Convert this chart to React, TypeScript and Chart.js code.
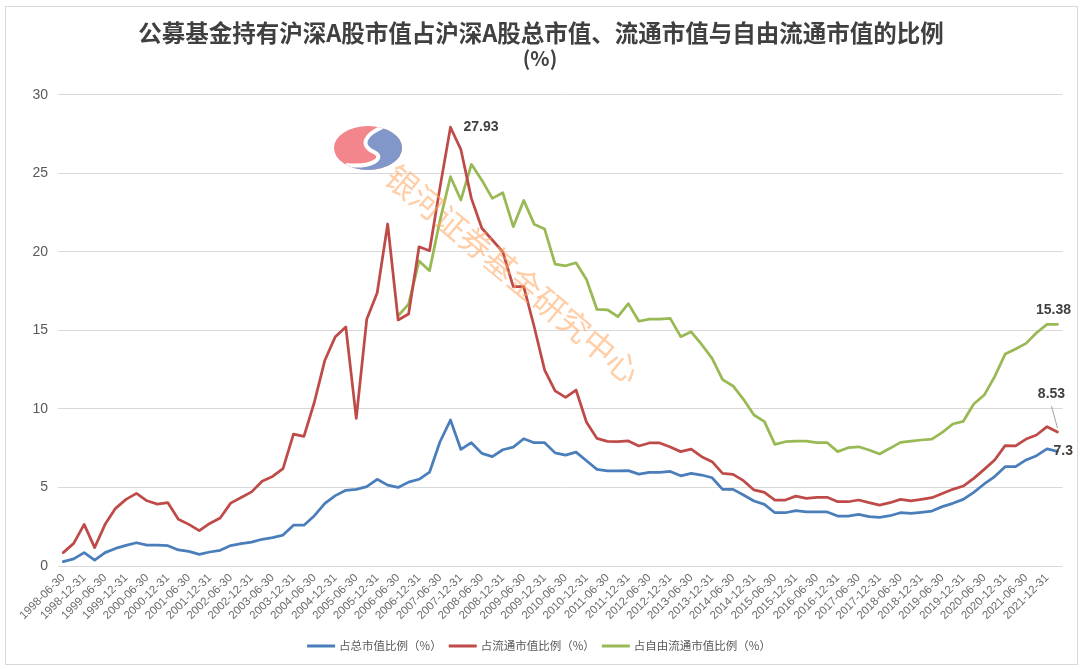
import React, { useEffect, useRef } from "react";
import { Chart, registerables } from "chart.js";

Chart.register(...registerables);

// Quarterly reporting dates
const categories: string[] = [
  "1998-06-30", "1998-09-30", "1998-12-31",
  "1999-03-31", "1999-06-30", "1999-09-30", "1999-12-31",
  "2000-03-31", "2000-06-30", "2000-09-30", "2000-12-31",
  "2001-03-31", "2001-06-30", "2001-09-30", "2001-12-31",
  "2002-03-31", "2002-06-30", "2002-09-30", "2002-12-31",
  "2003-03-31", "2003-06-30", "2003-09-30", "2003-12-31",
  "2004-03-31", "2004-06-30", "2004-09-30", "2004-12-31",
  "2005-03-31", "2005-06-30", "2005-09-30", "2005-12-31",
  "2006-03-31", "2006-06-30", "2006-09-30", "2006-12-31",
  "2007-03-31", "2007-06-30", "2007-09-30", "2007-12-31",
  "2008-03-31", "2008-06-30", "2008-09-30", "2008-12-31",
  "2009-03-31", "2009-06-30", "2009-09-30", "2009-12-31",
  "2010-03-31", "2010-06-30", "2010-09-30", "2010-12-31",
  "2011-03-31", "2011-06-30", "2011-09-30", "2011-12-31",
  "2012-03-31", "2012-06-30", "2012-09-30", "2012-12-31",
  "2013-03-31", "2013-06-30", "2013-09-30", "2013-12-31",
  "2014-03-31", "2014-06-30", "2014-09-30", "2014-12-31",
  "2015-03-31", "2015-06-30", "2015-09-30", "2015-12-31",
  "2016-03-31", "2016-06-30", "2016-09-30", "2016-12-31",
  "2017-03-31", "2017-06-30", "2017-09-30", "2017-12-31",
  "2018-03-31", "2018-06-30", "2018-09-30", "2018-12-31",
  "2019-03-31", "2019-06-30", "2019-09-30", "2019-12-31",
  "2020-03-31", "2020-06-30", "2020-09-30", "2020-12-31",
  "2021-03-31", "2021-06-30", "2021-09-30", "2021-12-31",
  "2022-03-31",
];

// 占总市值比例（%）
const totalRatio: number[] = [
  0.28, 0.45, 0.85, 0.38, 0.85, 1.12, 1.31, 1.48, 1.33, 1.33,
  1.29, 1.02, 0.93, 0.74, 0.89, 1.0, 1.3, 1.42, 1.52, 1.7,
  1.81, 1.97, 2.6, 2.6, 3.2, 3.98, 4.48, 4.82, 4.88, 5.05,
  5.52, 5.15, 5.0, 5.34, 5.52, 5.97, 7.91, 9.29, 7.42, 7.85,
  7.17, 6.96, 7.4, 7.57, 8.1, 7.85, 7.85, 7.2, 7.06, 7.25,
  6.7, 6.15, 6.05, 6.05, 6.07, 5.85, 5.96, 5.96, 6.02, 5.74,
  5.9, 5.79, 5.62, 4.88, 4.88, 4.52, 4.14, 3.92, 3.39, 3.39,
  3.52, 3.44, 3.44, 3.44, 3.18, 3.18, 3.29, 3.14, 3.1, 3.2,
  3.39, 3.35, 3.42, 3.5, 3.78, 3.99, 4.24, 4.69, 5.22, 5.69,
  6.32, 6.32, 6.75, 7.02, 7.45, 7.3,
];

// 占流通市值比例（%）
const floatRatio: number[] = [
  0.85, 1.44, 2.65, 1.17, 2.65, 3.67, 4.24, 4.62, 4.15, 3.94,
  4.03, 2.97, 2.65, 2.25, 2.71, 3.06, 4.0, 4.36, 4.72, 5.4,
  5.7, 6.2, 8.4, 8.25, 10.44, 13.1, 14.6, 15.22, 9.4, 15.7,
  17.39, 21.77, 15.66, 16.04, 20.32, 20.07, 24.1, 27.93, 26.5, 23.4,
  21.5, 20.75, 20.0, 17.78, 17.78, 15.23, 12.47, 11.15, 10.73, 11.2,
  9.15, 8.12, 7.93, 7.91, 7.96, 7.64, 7.83, 7.83, 7.57, 7.28,
  7.44, 6.96, 6.64, 5.9, 5.83, 5.43, 4.84, 4.69, 4.2, 4.2,
  4.45, 4.31, 4.37, 4.37, 4.09, 4.09, 4.2, 4.03, 3.88, 4.03,
  4.24, 4.14, 4.24, 4.35, 4.62, 4.88, 5.09, 5.58, 6.15, 6.75,
  7.66, 7.64, 8.08, 8.34, 8.87, 8.53,
];

// 占自由流通市值比例（%） (series begins 2006-06-30)
const freeFloatRatio: (number | null)[] = [
  null, null, null, null, null, null, null, null, null, null,
  null, null, null, null, null, null, null, null, null, null,
  null, null, null, null, null, null, null, null, null, null,
  null, null, 15.93, 16.67, 19.42, 18.8, 22.0, 24.78, 23.3, 25.57,
  24.56, 23.4, 23.76, 21.6, 23.27, 21.76, 21.45, 19.22, 19.11, 19.3,
  18.24, 16.33, 16.31, 15.87, 16.7, 15.58, 15.72, 15.72, 15.76, 14.6,
  14.91, 14.1, 13.22, 11.86, 11.46, 10.61, 9.61, 9.19, 7.74, 7.91,
  7.95, 7.95, 7.85, 7.85, 7.28, 7.53, 7.59, 7.38, 7.13, 7.49,
  7.87, 7.95, 8.02, 8.08, 8.51, 9.04, 9.21, 10.31, 10.88, 12.05,
  13.49, 13.81, 14.17, 14.85, 15.38, 15.38,
];

const seriesNames = ["占总市值比例（%）", "占流通市值比例（%）", "占自由流通市值比例（%）"];
const seriesColors = ["#4a7ebb", "#be4b48", "#98b954"];
const yTicks = [0, 5, 10, 15, 20, 25, 30];

const titleLines = ["公募基金持有沪深A股市值占沪深A股总市值、流通市值与自由流通市值的比例", "(%)"];
const watermarkText = "银河证券基金研究中心";

const CJK = '"Noto Sans CJK SC", "Noto Sans", sans-serif';

const titlePlugin = {
  id: "titleText",
  afterDraw(chart: any) {
    const ctx = chart.ctx;
    ctx.save();
    ctx.fillStyle = "#404040";
    ctx.textAlign = "center";
    ctx.textBaseline = "middle";
    ctx.font = `bold 23.5px ${CJK}`;
    ctx.fillText(titleLines[0], 541, 33);
    ctx.font = `bold 20px ${CJK}`;
    ctx.fillText(titleLines[1], 540, 58);
    ctx.restore();
  },
};

const legendPlugin = {
  id: "lineLegend",
  afterDraw(chart: any) {
    const ctx = chart.ctx;
    ctx.save();
    ctx.font = `11.5px ${CJK}`;
    const lineW = 28;
    const gap = 4;
    const itemGap = 7;
    const items = chart.data.datasets.map((ds: any) => ({ text: ds.label, color: ds.borderColor }));
    const widths = items.map((it: any) => lineW + gap + ctx.measureText(it.text).width);
    const total = widths.reduce((a: number, b: number) => a + b, 0) + itemGap * (items.length - 1);
    let x = 539 - total / 2;
    const y = 646;
    items.forEach((it: any, i: number) => {
      ctx.fillStyle = it.color;
      ctx.fillRect(x, y - 1.5, lineW, 3);
      ctx.fillStyle = "#595959";
      ctx.textAlign = "left";
      ctx.textBaseline = "middle";
      ctx.fillText(it.text, x + lineW + gap, y);
      x += widths[i] + itemGap;
    });
    ctx.restore();
  },
};

const valueLabels = [
  { ds: 1, idx: 37, dx: 13, dy: 0, align: "left", leader: false },
  { ds: 2, idx: 95, dx: -4, dy: -14, align: "center", leader: false },
  { ds: 1, idx: 95, dx: -6, dy: -38, align: "center", leader: true },
  { ds: 0, idx: 95, dx: -4, dy: 0, align: "left", leader: false },
];

const valueLabelPlugin = {
  id: "valueLabels",
  afterDatasetsDraw(chart: any) {
    const ctx = chart.ctx;
    ctx.save();
    ctx.font = 'bold 14px "Liberation Sans", Arial, sans-serif';
    ctx.fillStyle = "#404040";
    ctx.textBaseline = "middle";
    valueLabels.forEach((l) => {
      const meta = chart.getDatasetMeta(l.ds);
      const pt = meta.data[l.idx];
      const v = chart.data.datasets[l.ds].data[l.idx];
      if (!pt || v == null) return;
      if (l.leader) {
        ctx.strokeStyle = "#a6a6a6";
        ctx.lineWidth = 1;
        ctx.beginPath();
        ctx.moveTo(pt.x - 6, pt.y - 26);
        ctx.lineTo(pt.x, pt.y - 4);
        ctx.stroke();
      }
      ctx.textAlign = l.align;
      ctx.fillText(String(v), pt.x + l.dx, pt.y + l.dy);
    });
    ctx.restore();
  },
};

const watermarkPlugin = {
  id: "watermark",
  afterDatasetsDraw(chart: any) {
    const ctx = chart.ctx;
    // logo: pink top-left, blue bottom-right, white S-shaped divide
    const cx = 368, cy = 148, rx = 34, ry = 22;
    ctx.save();
    ctx.beginPath();
    ctx.ellipse(cx, cy, rx, ry, 0, 0, Math.PI * 2);
    ctx.clip();
    ctx.fillStyle = "#f3868d";
    ctx.fillRect(cx - rx, cy - ry, rx * 2, ry * 2);
    const sPath = () => {
      ctx.beginPath();
      ctx.moveTo(cx + 22, cy - ry - 2);
      ctx.bezierCurveTo(cx - 6, cy - 14, cx - 8, cy - 2, cx + 6, cy + 4);
      ctx.bezierCurveTo(cx + 18, cy + 10, cx + 4, cy + 20, cx - 22, cy + 17);
    };
    sPath();
    ctx.lineTo(cx - rx - 2, cy + 14);
    ctx.lineTo(cx - rx - 2, cy + ry + 2);
    ctx.lineTo(cx + rx + 2, cy + ry + 2);
    ctx.lineTo(cx + rx + 2, cy - ry - 2);
    ctx.closePath();
    ctx.fillStyle = "#8197c9";
    ctx.fill();
    ctx.strokeStyle = "#ffffff";
    ctx.lineWidth = 4;
    sPath();
    ctx.stroke();
    ctx.restore();
    // rotated text
    ctx.save();
    ctx.translate(513, 274);
    ctx.rotate((39.8 * Math.PI) / 180);
    ctx.font = `32px ${CJK}`;
    ctx.textAlign = "center";
    ctx.textBaseline = "middle";
    ctx.fillStyle = "rgba(255, 165, 95, 0.55)";
    ctx.fillText(watermarkText, 0, 0);
    ctx.restore();
  },
};

export default function App() {
  const ref = useRef<HTMLCanvasElement | null>(null);

  useEffect(() => {
    if (!ref.current) return;
    const chart = new Chart(ref.current, {
      type: "line",
      data: {
        labels: categories,
        datasets: [
          { label: seriesNames[0], data: totalRatio },
          { label: seriesNames[1], data: floatRatio },
          { label: seriesNames[2], data: freeFloatRatio },
        ].map((d, i) => ({
          ...d,
          borderColor: seriesColors[i],
          backgroundColor: seriesColors[i],
          borderWidth: 2.75,
          pointRadius: 0,
          pointHoverRadius: 0,
          tension: 0,
          fill: false,
          borderJoinStyle: "round" as const,
          borderCapStyle: "round" as const,
        })),
      },
      options: {
        animation: false,
        responsive: false,
        devicePixelRatio: 1,
        layout: { padding: { left: 0, right: 17.3, top: 94.7, bottom: 43 } },
        plugins: {
          legend: { display: false },
          title: { display: false },
          tooltip: { enabled: false },
        },
        scales: {
          x: {
            type: "category",
            offset: true,
            grid: { display: false, drawTicks: false },
            border: { display: false },
            afterFit: (scale: any) => {
              scale.height = 60;
            },
            ticks: {
              autoSkip: false,
              maxRotation: 45,
              minRotation: 45,
              padding: 5,
              color: "#6b6b6b",
              font: { family: '"Liberation Sans", Arial, sans-serif', size: 11.5 },
              callback: (_v: any, i: number) => (i % 2 === 0 ? categories[i] : ""),
            },
          },
          y: {
            min: yTicks[0],
            max: yTicks[yTicks.length - 1],
            afterFit: (scale: any) => {
              scale.width = 58;
            },
            afterBuildTicks: (scale: any) => {
              scale.ticks = yTicks.map((v) => ({ value: v }));
            },
            grid: { color: "#d9d9d9", lineWidth: 1, drawTicks: false },
            border: { display: false },
            ticks: {
              padding: 10,
              color: "#595959",
              font: { family: '"Liberation Sans", Arial, sans-serif', size: 14 },
            },
          },
        },
      },
      plugins: [watermarkPlugin, valueLabelPlugin, titlePlugin, legendPlugin],
    } as any);
    return () => chart.destroy();
  }, []);

  return (
    <div style={{ position: "absolute", left: 0, top: 0, width: 1080, height: 669, background: "#ffffff" }}>
      <div
        style={{
          position: "absolute",
          left: 5,
          top: 6,
          width: 1073,
          height: 659,
          border: "1px solid #d9d9d9",
          boxSizing: "border-box",
        }}
      />
      <canvas
        ref={ref}
        width={1080}
        height={669}
        style={{ position: "absolute", left: 0, top: 0, width: 1080, height: 669 }}
      />
    </div>
  );
}
